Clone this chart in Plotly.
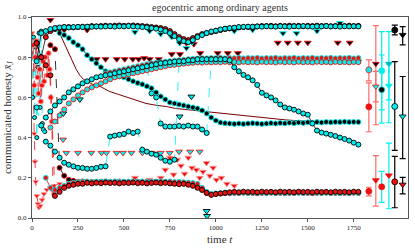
import plotly.graph_objects as go

# ---------------- data ----------------
T = [25, 50, 75, 100, 125, 150, 175, 200, 225, 250, 275, 300, 325, 350, 375, 400, 425, 450, 475, 500,
     525, 550, 575, 600, 625, 650, 675, 700, 725, 750, 775, 800, 825, 850, 875, 900, 925, 950, 975, 1000,
     1025, 1050, 1075, 1100, 1125, 1150, 1175, 1200, 1225, 1250, 1275, 1300, 1325, 1350, 1375, 1400, 1425,
     1450, 1475, 1500, 1525, 1550, 1575, 1600, 1625, 1650, 1675, 1700, 1725, 1750, 1775]
N = None

TOP_RED = [0.87, 0.80, 0.90, 0.93, 0.94, 0.945, 0.95, 0.95, 0.948, 0.95, 0.952, 0.95, 0.955, 0.953, 0.955,
           0.957, 0.955, 0.957, 0.958, 0.956, 0.957, 0.958, 0.956, 0.955, 0.953, 0.95, 0.948, 0.945, 0.94,
           0.93, 0.915, 0.90, 0.89, 0.885, 0.895, 0.905, 0.915, 0.92, 0.925, 0.93, 0.935, 0.94, 0.943, 0.945,
           0.948, 0.95, 0.95, 0.952, 0.953, 0.955, 0.955, 0.956, 0.954, 0.956, 0.955, 0.957, 0.955, 0.956,
           0.954, 0.956, 0.955, 0.957, 0.955, 0.956, 0.954, 0.955, 0.956, 0.955, 0.957, 0.955, 0.956]
TOP_CYAN = [0.78, 0.92, 0.93, 0.94, 0.945, 0.948, 0.95, 0.948, 0.95, 0.951, 0.95, 0.952, 0.951, 0.953, 0.952,
            0.953, 0.954, 0.952, 0.954, 0.953, 0.955, 0.953, 0.952, 0.95, 0.948, 0.945, 0.942, 0.938, 0.93,
            0.92, 0.905, 0.89, 0.88, 0.875, 0.885, 0.90, 0.91, 0.92, 0.928, 0.932, 0.938, 0.942, 0.945,
            0.947, 0.95, 0.951, 0.952, 0.951, 0.953, 0.952, 0.954, 0.953, 0.952, 0.954, 0.953, 0.952, 0.954,
            0.953, 0.955, 0.953, 0.952, 0.954, 0.953, 0.955, 0.953, 0.954, 0.952, 0.954, 0.953, 0.954, 0.953]
CYAN_A = [N, N, 0.50, 0.53, 0.56, 0.58, 0.60, 0.625, 0.64, 0.655, 0.67, 0.68, 0.69, 0.70, 0.705, 0.71, 0.715,
          0.72, 0.725, 0.73, 0.735, 0.74, 0.745, 0.75, 0.755, 0.76, 0.765, 0.77, 0.772, 0.775, 0.778, 0.78,
          0.78, 0.785, 0.785, 0.79, 0.79, 0.79, 0.79, 0.79, 0.79, 0.79, 0.785, 0.75, 0.73, 0.712, 0.70,
          0.685, 0.662, 0.623, 0.61, 0.60, 0.585, 0.565, 0.55, 0.545, 0.539, 0.53, 0.52, 0.514, 0.47, 0.435,
          0.425, 0.42, 0.414, 0.408, 0.40, 0.393, 0.385, 0.375, 0.365]
CYAN_B = [N, N, N, 0.45, 0.48, 0.51, 0.54, 0.57, 0.59, 0.61, 0.625, 0.64, 0.65, 0.66, 0.67, 0.68, 0.69,
          0.70, 0.705, 0.71, 0.715, 0.72, 0.725, 0.73, 0.735, 0.74, 0.745, 0.75, 0.755, 0.76, 0.762, 0.765,
          0.768, 0.77, 0.772, 0.774, 0.773, 0.775, 0.774, 0.776, 0.775, 0.777, 0.775, 0.776, 0.774, 0.777,
          0.775, 0.776, 0.774, 0.777, 0.775, 0.776, 0.774, 0.777, 0.775, 0.776, 0.774, 0.777, 0.775, 0.776,
          0.774, 0.777, 0.775, 0.776, 0.774, 0.777, 0.775, 0.776, 0.774, 0.776, 0.775]
RED_PLAT = [N, N, N, N, N, N, N, N, N, N, N, N, N, N, N, 0.72, 0.725, 0.73, 0.735, 0.74, 0.745, 0.75,
            0.755, 0.76, 0.765, 0.77, 0.772, 0.775, 0.778, 0.78, 0.783, 0.785, 0.787, 0.79, 0.792, 0.793,
            0.795, 0.794, 0.796, 0.795, 0.797, 0.794, 0.796, 0.795, 0.797, 0.794, 0.796, 0.795, 0.797, 0.794,
            0.796, 0.795, 0.797, 0.794, 0.796, 0.795, 0.797, 0.794, 0.796, 0.795, 0.797, 0.794, 0.796,
            0.795, 0.797, 0.794, 0.796, 0.795, 0.797, 0.794, 0.796]
CYAN_LOW = [0.55, 0.46, 0.38, 0.36, 0.33, 0.30, 0.275, 0.265, 0.257, 0.25, 0.249, 0.245, 0.245, 0.249,
            0.255, 0.257, 0.405, 0.41, 0.414, 0.418, 0.43, 0.423, 0.43, 0.34, 0.33, 0.32, 0.315, 0.30,
            0.285, 0.28, 0.29, 0.78, 0.782, 0.781, 0.783, 0.782, 0.784, 0.782, 0.783, 0.781, 0.783, 0.782,
            0.784, 0.782, 0.783, 0.781, 0.783, 0.782, 0.784, 0.782, 0.783, 0.781, 0.783, 0.782, 0.784,
            0.782, 0.783, 0.781, 0.783, 0.782, 0.784, 0.782, 0.783, 0.781, 0.783, 0.782, 0.784, 0.782,
            0.783, 0.781, 0.783]
CYAN_MID = [N, N, N, N, N, N, N, N, N, N, N, N, N, N, N, N, N, N, N, N, N, N, N, N, 0.75, 0.62, 0.60,
            0.47, 0.455, 0.455, 0.455, 0.458, 0.455, 0.46, 0.455, 0.455, 0.44, 0.423, 0.787, 0.789, 0.787,
            0.788, 0.786, 0.789, 0.787, 0.788, 0.786, 0.789, 0.787, 0.788, 0.786, 0.789, 0.787, 0.788,
            0.786, 0.789, 0.787, 0.788, 0.786, 0.789, 0.787, 0.788, 0.786, 0.789, 0.787, 0.788, 0.786,
            0.789, 0.787, 0.788, 0.786]
BLACK_DESC = [N, N, N, N, N, 0.92, 0.91, 0.895, 0.875, 0.86, 0.84, 0.81, 0.79, 0.77, 0.75, 0.73, 0.72,
              0.71, 0.705, 0.70, 0.69, 0.68, 0.672, 0.665, 0.655, 0.645, 0.625, 0.605, 0.59, 0.575, 0.57,
              0.565, 0.56, 0.555, 0.55, 0.545, 0.535, 0.52, 0.50, 0.485, 0.475, 0.472, 0.47, 0.468, 0.47,
              0.468, 0.47, 0.472, 0.47, 0.468, 0.47, 0.472, 0.47, 0.473, 0.471, 0.474, 0.472, 0.475, 0.473,
              0.476, 0.474, 0.477, 0.475, 0.478, 0.476, 0.478, 0.477, 0.479, 0.477, 0.478, 0.477]
RED_BOT = [0.87, 0.80, 0.76, 0.71, 0.11, 0.13, 0.15, 0.16, 0.165, 0.17, 0.17, 0.175, 0.172, 0.175, 0.173,
           0.176, 0.174, 0.175, 0.172, 0.175, 0.174, 0.176, 0.173, 0.175, 0.172, 0.174, 0.176, 0.173, 0.175,
           0.172, 0.17, 0.168, 0.17, 0.165, 0.16, 0.15, 0.14, 0.125, 0.115, 0.12, 0.122, 0.125, 0.128,
           0.13, 0.128, 0.131, 0.129, 0.13, 0.128, 0.131, 0.129, 0.13, 0.128, 0.131, 0.129, 0.13, 0.128,
           0.131, 0.129, 0.13, 0.128, 0.131, 0.129, 0.13, 0.128, 0.131, 0.129, 0.13, 0.128, 0.131, 0.13]
RED_BOT2 = [N, N, 0.20, 0.15, 0.14, 0.15, 0.16, 0.17, 0.175, 0.178, 0.18, 0.182, 0.179, 0.181, 0.18,
            0.183, 0.18, 0.182, 0.179, 0.181, 0.18, 0.183, 0.18, 0.182, 0.179, 0.181, 0.18, 0.183, 0.18,
            0.182, 0.179, 0.18, 0.178, 0.176, 0.174, 0.17, 0.15, 0.13, 0.12, 0.122, 0.124, 0.126, 0.125,
            0.127, 0.125, 0.126, 0.124, 0.127, 0.125, 0.126, 0.124, 0.127, 0.125, 0.126, 0.124, 0.127,
            0.125, 0.126, 0.124, 0.127, 0.125, 0.126, 0.124, 0.127, 0.125, 0.126, 0.124, 0.127, 0.125,
            0.126, 0.125]
BLACK_BOT = [N, N, N, 0.86, 0.84, 0.25, 0.21, 0.19, 0.185, 0.18, 0.182, 0.178, 0.18, 0.179, 0.181, 0.178,
             0.18, 0.179, 0.181, 0.178, 0.18, 0.179, 0.181, 0.178, 0.18, 0.179, 0.181, 0.178, 0.18, 0.179,
             0.176, 0.174, 0.172, 0.17, 0.168, 0.16, 0.14, 0.125, 0.118, 0.12, 0.122, 0.124, 0.123, 0.125,
             0.124, 0.126, 0.124, 0.125, 0.123, 0.125, 0.124, 0.126, 0.124, 0.125, 0.123, 0.125, 0.124,
             0.126, 0.124, 0.125, 0.123, 0.125, 0.124, 0.126, 0.124, 0.125, 0.123, 0.125, 0.124, 0.126, 0.124]

THIN_T = [130, 142, 160, 180, 200, 220, 240, 260, 280, 300, 330, 370, 420, 470, 520, 570, 620, 680, 730, 780,
          830, 880, 930, 980, 1030, 1080, 1130, 1180, 1230, 1280, 1330, 1380, 1430, 1480, 1530, 1580, 1630,
          1680, 1730, 1780]
THIN_V = [0.96, 0.935, 0.90, 0.86, 0.82, 0.78, 0.74, 0.71, 0.69, 0.68, 0.665, 0.655, 0.63, 0.615, 0.60,
          0.585, 0.57, 0.56, 0.555, 0.545, 0.54, 0.535, 0.53, 0.525, 0.52, 0.515, 0.51, 0.505, 0.50, 0.495,
          0.49, 0.488, 0.485, 0.482, 0.48, 0.48, 0.478, 0.477, 0.476, 0.475]

RED_EARLY_T = [0, 4, 8, 12, 16, 20, 26, 32, 38, 45, 55, 65, 80, 100, 120, 150]
RED_EARLY_V = [0.92, 0.80, 0.60, 0.42, 0.28, 0.18, 0.11, 0.07, 0.052, 0.06, 0.09, 0.12, 0.14, 0.15, 0.16, 0.17]

RED_JIT_T = [5, 12, 18, 24, 30, 36, 42, 48, 54, 60, 66, 72, 78, 84, 90, 96, 102, 108, 114, 120]
RED_JIT_V = [0.86, 0.66, 0.80, 0.88, 0.70, 0.62, 0.74, 0.58, 0.66, 0.78, 0.68, 0.80, 0.76, 0.71, 0.82, 0.74,
             0.60, 0.48, 0.14, 0.12]

CYAN_JIT_T = [3, 8, 14, 20, 26, 32, 38, 44, 50, 56, 62, 70]
CYAN_JIT_V = [0.60, 0.90, 0.50, 0.85, 0.40, 0.75, 0.92, 0.55, 0.93, 0.47, 0.44, 0.43]

TRI_ROW_T = [169, 187, 250, 323, 378, 405, 460, 495, 541, 600, 650, 700, 749, 800, 860, 912]
TRI_ROW_V = [0.39, 0.324, 0.324, 0.324, 0.324, 0.324, 0.324, 0.324, 0.324, 0.324, 0.324, 0.324, 0.324,
             0.33, 0.33, 0.33]

TRI_K_T = [100, 175, 300, 352, 400, 461, 504, 548, 580, 610, 640, 690, 760, 805, 840, 880, 915, 1010, 1065,
           1120, 1337, 1391, 1446, 1500, 1663, 1728]
TRI_K_V = [0.985, 0.935, 0.935, 0.79, 0.79, 0.79, 0.79, 0.79, 0.79, 0.795, 0.79, 0.79, 0.815, 0.815, 0.87,
           0.865, 0.82, 0.82, 0.82, 0.82, 0.872, 0.872, 0.872, 0.872, 0.872, 0.872]

TRI_HI_T = [560, 640, 700, 760, 803, 840, 870, 1100, 1200, 1365, 1439, 1550, 1675]
TRI_HI_V = [0.925, 0.93, 0.915, 0.90, 0.87, 0.845, 0.875, 0.93, 0.935, 0.919, 0.919, 0.93, 0.97]

RED_TRI_T = [560, 640, 700, 725, 749, 770, 790, 810, 830, 850, 870, 894, 912, 930, 949, 967, 985, 1003,
             1030, 1060, 1100]
RED_TRI_V = [0.20, 0.19, 0.20, 0.24, 0.30, 0.216, 0.29, 0.26, 0.22, 0.30, 0.25, 0.24, 0.20, 0.23, 0.274,
             0.21, 0.25, 0.19, 0.20, 0.17, 0.16]

CYAN_TRI_T = [170, 260, 803, 867, 950, 952]
CYAN_TRI_V = [0.52, 0.59, 0.505, 0.604, 0.035, 0.01]

# summary error bars (x column, centre, upper, lower)
EB_X = [1832, 1832, 1832, 1870, 1870, 1870, 1902, 1902, 1902, 1941, 1941, 1941, 1973, 1973, 1973,
        2016, 2016, 2016]
EB_Y = [0.737, 0.553, 0.133, 0.767, 0.654, 0.188, 0.732, 0.638, 0.155, 0.767, 0.658, 0.212, 0.935, 0.555,
        0.180, 0.911, 0.505, 0.166]
EB_HI = [0.787, 0.672, 0.153, 0.957, 0.729, 0.310, 0.927, 0.811, 0.232, 0.927, 0.767, 0.373, 0.960, 0.778,
         0.307, 0.952, 0.704, 0.202]
EB_LO = [0.682, 0.429, 0.110, 0.578, 0.464, 0.059, 0.538, 0.472, 0.078, 0.588, 0.474, 0.046, 0.911, 0.336,
         0.051, 0.861, 0.295, 0.120]

X_TICKS = [0, 250, 500, 750, 1000, 1250, 1500, 1750]
Y_TICKS = [0.0, 0.2, 0.4, 0.6, 0.8, 1.0]

# ---------------- styles ----------------
RED = "#ee1111"
CYAN = "#00f0f0"
BLACK = "#000000"
DRED = "#7a0000"
LRED = "#ff6a6a"

fig = go.Figure()


def add(x, y, fill, edge, lcolor, dash="solid", symbol="circle", size=5, lw=0.8, mode="lines+markers"):
    fig.add_trace(go.Scatter(
        x=x, y=y, mode=mode, connectgaps=False, showlegend=False, hoverinfo="skip",
        line=dict(color=lcolor, width=lw, dash=dash),
        marker=dict(symbol=symbol, size=size, color=fill, line=dict(color=edge, width=0.9)),
    ))


add(THIN_T, THIN_V, DRED, DRED, DRED, mode="lines", lw=1)
add(RED_EARLY_T, RED_EARLY_V, RED, "#ff9999", RED, dash="dash", symbol="triangle-down", size=5)
add(CYAN_JIT_T, CYAN_JIT_V, CYAN, BLACK, CYAN, dash="dash", size=4)
add(RED_JIT_T, RED_JIT_V, RED, "#ff9999", RED, dash="dash", size=5)
add(TRI_ROW_T, TRI_ROW_V, CYAN, RED, CYAN, symbol="triangle-down", size=6, mode="markers")
add(TRI_K_T, TRI_K_V, BLACK, RED, BLACK, symbol="triangle-down", size=6, mode="markers")
add(TRI_HI_T, TRI_HI_V, BLACK, CYAN, BLACK, symbol="triangle-down", size=6, mode="markers")
add(RED_TRI_T, RED_TRI_V, RED, "#ff9999", RED, symbol="triangle-down", size=6, mode="markers")
add(CYAN_TRI_T, CYAN_TRI_V, CYAN, BLACK, CYAN, symbol="triangle-down", size=6, mode="markers")

add(T, BLACK_BOT, BLACK, RED, BLACK, dash="dash")
add(T, RED_BOT2, RED, CYAN, RED, dash="dash")
add(T, RED_BOT, RED, BLACK, RED, dash="dash")
add(T, CYAN_LOW, CYAN, BLACK, CYAN, dash="dash")
add(T, CYAN_MID, CYAN, BLACK, CYAN, dash="dash")
add(T, BLACK_DESC, BLACK, CYAN, BLACK)
add(T, RED_PLAT, RED, CYAN, RED, dash="dash")
add(T, CYAN_B, CYAN, RED, CYAN, dash="dash")
add(T, CYAN_A, CYAN, BLACK, BLACK)
add(T, TOP_RED, RED, BLACK, BLACK)
add(T, TOP_CYAN, CYAN, BLACK, BLACK)

# error bar summary
EB_STYLE = [  # (bar colour, marker fill, marker edge, symbol)
    (LRED, CYAN, RED, "circle"), (LRED, RED, RED, "circle"), (LRED, RED, RED, "circle"),
    (LRED, BLACK, RED, "triangle-down"), (LRED, CYAN, RED, "triangle-down"), (LRED, RED, RED, "triangle-down"),
    (CYAN, CYAN, CYAN, "circle"), (CYAN, BLACK, CYAN, "circle"), (CYAN, RED, RED, "circle"),
    (CYAN, BLACK, CYAN, "triangle-down"), (CYAN, CYAN, CYAN, "triangle-down"), (CYAN, RED, RED, "triangle-down"),
    (BLACK, BLACK, BLACK, "circle"), (BLACK, CYAN, BLACK, "circle"), (BLACK, RED, BLACK, "circle"),
    (BLACK, BLACK, BLACK, "triangle-down"), (BLACK, CYAN, BLACK, "triangle-down"), (BLACK, RED, BLACK, "triangle-down"),
]
for i in range(len(EB_X)):
    bc, fc, ec, sym = EB_STYLE[i]
    fig.add_trace(go.Scatter(
        x=[EB_X[i]], y=[EB_Y[i]], mode="markers", showlegend=False, hoverinfo="skip",
        marker=dict(symbol=sym, size=6, color=fc, line=dict(color=ec, width=0.8)),
        error_y=dict(type="data", symmetric=False, array=[EB_HI[i] - EB_Y[i]],
                     arrayminus=[EB_Y[i] - EB_LO[i]], color=bc, thickness=1.2, width=3),
    ))

SERIF = "Liberation Serif"
fig.update_layout(
    width=415, height=249,
    margin=dict(l=32, r=7, t=17, b=31, autoexpand=False),
    paper_bgcolor="white", plot_bgcolor="white",
    font=dict(family=SERIF, color="#222", size=7),
    title=dict(text="egocentric among ordinary agents", x=0.53, xanchor="center",
               y=0.985, yanchor="top", font=dict(family=SERIF, size=10, color="#333")),
    annotations=[
        dict(text="time <i>t</i>", xref="paper", yref="paper", x=0.5, y=-0.105, xanchor="center",
             yanchor="middle", showarrow=False, font=dict(family=SERIF, size=11, color="#333")),
        dict(text="communicated honesty <i>x̄</i><sub><i>J</i></sub>", xref="paper", yref="paper",
             x=-0.065, y=0.5, xanchor="center", yanchor="middle", textangle=-90, showarrow=False,
             font=dict(family=SERIF, size=11, color="#333")),
    ],
)
fig.update_xaxes(range=[0, 2045], tickvals=X_TICKS, ticktext=[str(v) for v in X_TICKS], automargin=False,
                 showgrid=False, zeroline=False, showline=True, mirror=True, linecolor="#555",
                 linewidth=1, ticks="outside", ticklen=3, tickcolor="#555")
fig.update_yaxes(range=[0, 1], tickvals=Y_TICKS, ticktext=["%.1f" % v for v in Y_TICKS], automargin=False,
                 showgrid=False, zeroline=False, showline=True, mirror=True, linecolor="#555",
                 linewidth=1, ticks="outside", ticklen=3, tickcolor="#555")

fig.write_html("out.html", config={"displayModeBar": False},
               post_script="document.body.style.margin='0';document.body.style.padding='0';")
